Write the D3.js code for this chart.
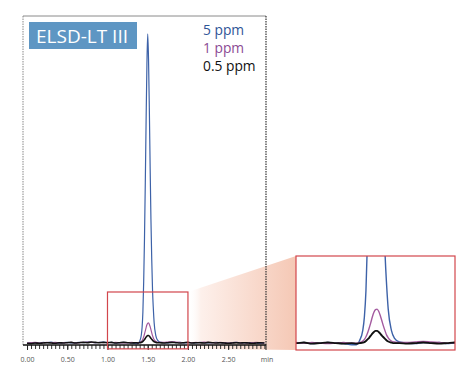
<!DOCTYPE html>
<html>
<head>
<meta charset="utf-8">
<script src="https://cdn.jsdelivr.net/npm/d3@7"></script>
<style>
  body { margin: 0; background: #fff; }
  svg { display: block; font-family: "Open Sans", "Noto Sans", sans-serif; }
</style>
</head>
<body>
<svg id="chart" width="466" height="377"></svg>
<script>
// retention time (min)
const times = [0.00,0.05,0.10,0.15,0.20,0.25,0.30,0.35,0.40,0.45,0.50,0.55,0.60,0.65,0.70,0.75,0.80,0.85,0.90,0.95,
  1.00,1.05,1.10,1.15,1.20,1.25,1.30,1.35,1.38,1.40,1.42,1.43,1.44,1.45,1.46,1.47,1.48,1.49,1.50,1.51,1.52,1.53,
  1.54,1.55,1.56,1.57,1.58,1.60,1.62,1.65,1.70,1.75,1.80,1.85,1.90,1.95,2.00,2.05,2.10,2.15,2.20,2.25,2.30,2.35,
  2.40,2.45,2.50,2.55,2.60,2.65,2.70,2.75,2.80,2.85,2.90,2.95];

// detector signal, arbitrary units
const ppm5 = [-0.2,0.1,0.0,-0.1,0.2,0.1,0.3,0.0,-0.1,0.1,0.2,0.0,0.1,0.2,0.1,0.3,0.2,0.1,0.2,0.3,
  0.1,0.2,0.0,0.1,0.2,0.1,0.0,-0.2,-0.2,0.6,2.5,5,10,20,34,52,72,90,100,92,76,57,
  40,27,17,11,6.5,2.5,1.0,0.3,0.1,0.0,0.2,0.1,0.2,0.0,0.1,0.1,0.0,0.2,0.1,0.0,0.1,0.2,
  0.1,0.0,-0.1,0.1,0.2,0.1,0.0,0.1,0.1,0.0,-0.1,0.0];
const ppm1 = [0.0,0.1,0.2,0.0,0.1,0.2,0.1,0.2,0.0,0.1,0.1,0.2,0.0,0.1,0.2,0.3,0.2,0.1,0.2,0.1,
  0.2,0.1,0.2,0.1,0.0,0.1,0.2,0.1,0.1,0.2,0.5,0.8,1.3,2.0,2.9,3.9,5.0,5.9,6.4,6.5,6.1,5.3,
  4.3,3.3,2.4,1.6,1.1,0.5,0.3,0.2,0.2,0.3,0.4,0.3,0.2,0.1,0.2,0.1,0.2,0.1,0.3,0.2,0.1,0.1,
  0.2,0.1,0.0,0.1,0.2,0.1,0.1,0.0,0.1,0.2,0.1,0.0];
const ppm05 = [-0.1,-0.2,0.0,-0.1,0.0,0.1,0.0,-0.1,0.1,0.0,0.1,0.2,0.0,0.1,0.2,0.1,0.3,0.2,0.1,0.2,
  0.1,0.2,0.0,0.1,0.2,0.1,0.0,0.1,0.0,0.1,0.2,0.3,0.5,0.8,1.1,1.5,1.9,2.2,2.4,2.4,2.2,1.9,
  1.5,1.2,0.9,0.6,0.4,0.2,0.1,0.1,0.0,0.1,0.2,0.1,0.0,0.1,0.2,0.0,0.1,0.1,0.0,0.2,0.1,0.0,
  0.1,0.0,-0.1,0.0,0.1,0.0,0.1,0.0,-0.1,0.0,0.1,0.0];

const seriesNames = ['5 ppm', '1 ppm', '0.5 ppm'];
const seriesColors = ['#3d62a8', '#a35a9f', '#111111'];
const legendColors = ['#2f5597', '#8c4b94', '#111111'];
const tickValues = [0, 0.5, 1.0, 1.5, 2.0, 2.5];
const tickLabels = ['0.00', '0.50', '1.00', '1.50', '2.00', '2.50'];
const zoomTime = [1.0, 2.0];
const zoomSignal = [-1.9, 16.5];

const svg = d3.select('#chart');
const plotL = 23, plotR = 266, plotT = 16, plotB = 345;

const x = d3.scaleLinear().domain([-0.05, 2.97]).range([plotL, plotR]);
const y = d3.scaleLinear().domain([-0.65, 105.8]).range([plotB, plotT]);

const xi = d3.scaleLinear().domain(zoomTime).range([296, 455]);
const yi = d3.scaleLinear().domain([-1.2, 16.5]).range([350, 256]);

const allSeries = [ppm5, ppm1, ppm05];

// gradient wedge from the red box to the inset
const defs = svg.append('defs');
const grad = defs.append('linearGradient')
  .attr('id', 'wedge')
  .attr('gradientUnits', 'userSpaceOnUse')
  .attr('x1', x(zoomTime[1])).attr('x2', xi(zoomTime[0]))
  .attr('y1', 0).attr('y2', 0);
grad.append('stop').attr('offset', 0).attr('stop-color', '#fff').attr('stop-opacity', 0);
grad.append('stop').attr('offset', 0.12).attr('stop-color', '#fdf0eb');
grad.append('stop').attr('offset', 1).attr('stop-color', '#f5c8b5');

svg.append('path')
  .attr('d', `M${x(zoomTime[1])},${y(zoomSignal[1])}L${xi(zoomTime[0])},${yi.range()[1]}` +
    `L${xi(zoomTime[0])},${yi.range()[0]}L${x(zoomTime[1])},${y(zoomSignal[0])}Z`)
  .attr('fill', 'url(#wedge)');

defs.append('clipPath').attr('id', 'mainClip')
  .append('rect').attr('x', plotL).attr('y', plotT).attr('width', plotR - plotL).attr('height', plotB - plotT);
defs.append('clipPath').attr('id', 'insetClip')
  .append('rect').attr('x', 296).attr('y', 256).attr('width', 159).attr('height', 94);

// frame
svg.append('line').attr('x1', plotL).attr('x2', plotR).attr('y1', plotT).attr('y2', plotT)
  .attr('stroke', '#8a8a8a').attr('stroke-width', 1);
svg.append('line').attr('x1', plotL).attr('x2', plotL).attr('y1', plotT).attr('y2', plotB)
  .attr('stroke', '#888').attr('stroke-width', 1).attr('stroke-dasharray', '1.5,1');
svg.append('line').attr('x1', plotR).attr('x2', plotR).attr('y1', plotT).attr('y2', plotB)
  .attr('stroke', '#333').attr('stroke-width', 1.2).attr('stroke-dasharray', '1.5,1');

// traces
const line = d3.line()
  .x((d, i) => x(times[i]))
  .y(d => y(d))
  .curve(d3.curveMonotoneX);

const main = svg.append('g').attr('clip-path', 'url(#mainClip)');
allSeries.forEach((s, k) => {
  main.append('path')
    .attr('d', line(s))
    .attr('fill', 'none')
    .attr('stroke', seriesColors[k])
    .attr('stroke-width', k === 2 ? 1.6 : 1.2);
});

// axis
const minorTicks = d3.range(0, 2.96, 0.05);
svg.append('g')
  .attr('transform', `translate(0,${plotB})`)
  .call(d3.axisBottom(x).tickValues(minorTicks).tickSize(4).tickFormat(''))
  .call(g => g.select('.domain').remove())
  .call(g => g.selectAll('line').attr('stroke', '#333').attr('stroke-width', 1));

svg.append('g')
  .attr('transform', `translate(0,${plotB})`)
  .call(d3.axisBottom(x).tickValues(tickValues).tickSize(5).tickPadding(7)
    .tickFormat((d, i) => tickLabels[i]))
  .call(g => g.select('.domain').attr('stroke', '#111').attr('stroke-width', 1.6)
    .attr('d', `M${plotL},0H${plotR}`))
  .call(g => g.selectAll('line').attr('stroke', '#222'))
  .call(g => g.selectAll('text').attr('font-size', 7).attr('fill', '#555')
    .attr('font-family', '"Open Sans", sans-serif'));

svg.append('line').attr('x1', plotR).attr('x2', plotR).attr('y1', plotB).attr('y2', plotB + 5)
  .attr('stroke', '#222').attr('stroke-width', 1);
svg.append('text').attr('x', plotR + 1).attr('y', plotB + 17)
  .attr('text-anchor', 'middle').attr('font-size', 7).attr('fill', '#555').text('min');

// red zoom box
const red = '#d2464c';
svg.append('rect')
  .attr('x', x(zoomTime[0])).attr('y', y(zoomSignal[1]))
  .attr('width', x(zoomTime[1]) - x(zoomTime[0]))
  .attr('height', y(zoomSignal[0]) - y(zoomSignal[1]))
  .attr('fill', 'none').attr('stroke', red).attr('stroke-width', 1.2);

// inset
svg.append('rect').attr('x', 296).attr('y', 256).attr('width', 159).attr('height', 94)
  .attr('fill', '#fff');
const insetLine = d3.line()
  .x((d, i) => xi(times[i]))
  .y(d => yi(d))
  .curve(d3.curveMonotoneX);
const inset = svg.append('g').attr('clip-path', 'url(#insetClip)');
allSeries.forEach((s, k) => {
  inset.append('path')
    .attr('d', insetLine(s))
    .attr('fill', 'none')
    .attr('stroke', seriesColors[k])
    .attr('stroke-width', k === 2 ? 1.9 : 1.4);
});
svg.append('rect').attr('x', 296).attr('y', 256).attr('width', 159).attr('height', 94)
  .attr('fill', 'none').attr('stroke', red).attr('stroke-width', 1.2);

// title badge
svg.append('rect').attr('x', 29).attr('y', 22).attr('width', 108).attr('height', 27)
  .attr('fill', '#5e96c3');
svg.append('text').attr('x', 36).attr('y', 43)
  .attr('font-size', 19).attr('fill', '#fff').text('ELSD-LT III');

// legend
seriesNames.forEach((n, i) => {
  svg.append('text')
    .attr('x', 203).attr('y', 35 + i * 18)
    .attr('font-size', 13.8)
    .attr('fill', legendColors[i])
    .text(n);
});
</script>
</body>
</html>
